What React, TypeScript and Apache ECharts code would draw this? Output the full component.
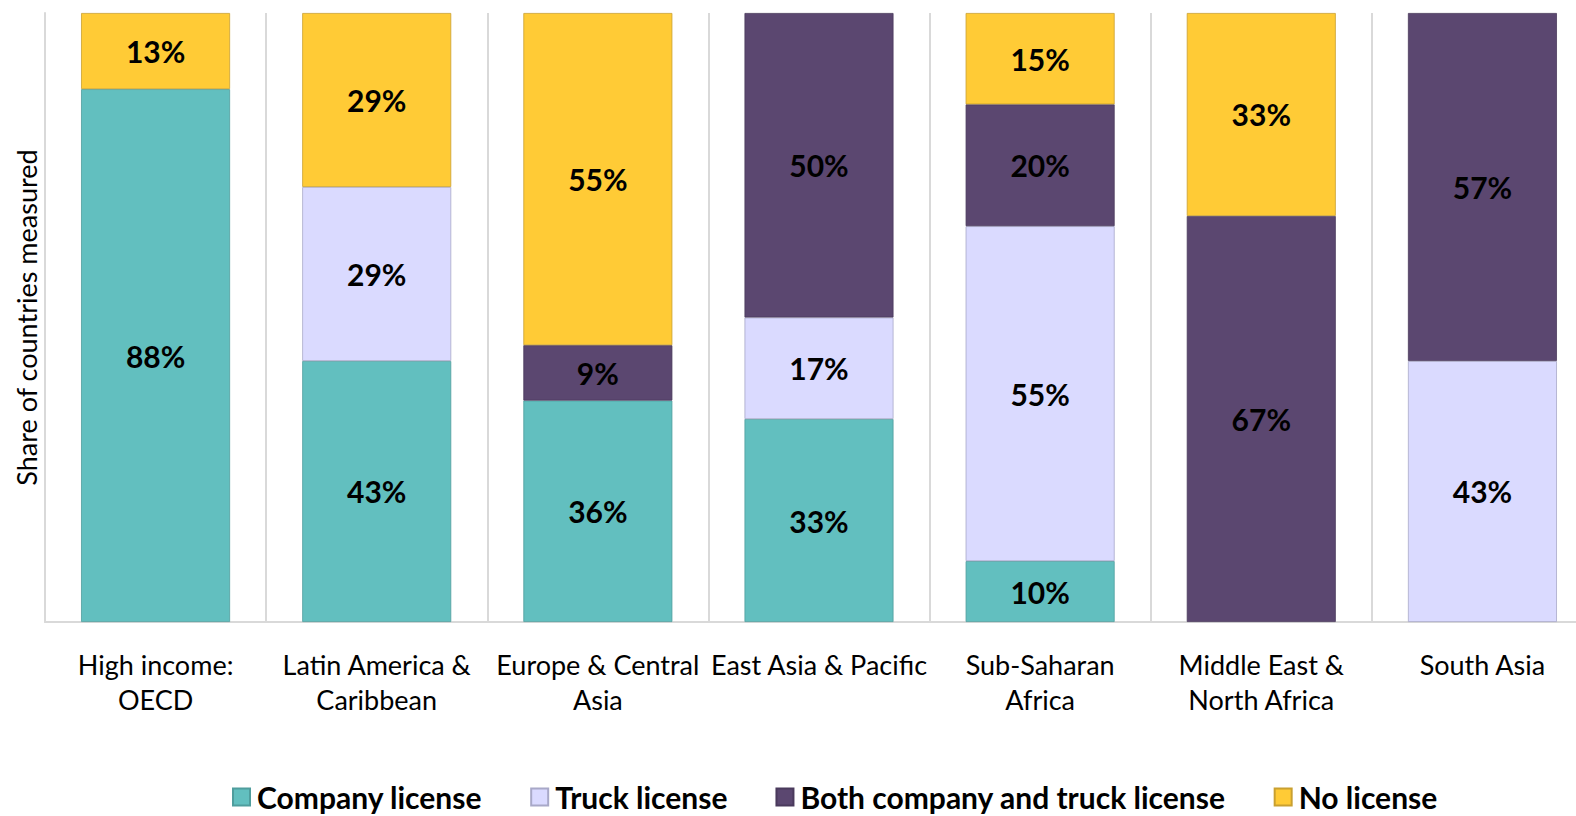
import React, { useEffect, useRef } from "react";
import * as echarts from "echarts";

const categories = [
  "High income:\nOECD",
  "Latin America &\nCaribbean",
  "Europe & Central\nAsia",
  "East Asia & Pacific",
  "Sub-Saharan\nAfrica",
  "Middle East &\nNorth Africa",
  "South Asia",
];

const seriesNames = ["Company license", "Truck license", "Both company and truck license", "No license"];

const companyLicense = [87.5, 42.86, 36.36, 33.33, 10, 0, 0];
const truckLicense = [0, 28.57, 0, 16.67, 55, 0, 42.86];
const bothLicense = [0, 0, 9.09, 50, 20, 66.67, 57.14];
const noLicense = [12.5, 28.57, 54.55, 0, 15, 33.33, 0];

const colors = ["#62BFBF", "#DADAFF", "#5B4770", "#FFCB36"];
const borders = ["#4f9d9d", "#a8a8c8", "#4a3a5c", "#c9a030"];

const FONT = "Lato, 'Open Sans', sans-serif";

export default function App() {
  const ref = useRef<HTMLDivElement>(null);
  useEffect(() => {
    if (!ref.current) return;
    const chart = echarts.init(ref.current, null, { renderer: "svg" });
    const dataSets = [companyLicense, truckLicense, bothLicense, noLicense];
    chart.setOption({
      animation: false,
      textStyle: { fontFamily: FONT },
      grid: { left: 45, width: 1548, top: 13, bottom: 194, containLabel: false, outerBoundsMode: "none" },
      legend: {
        bottom: 4,
        left: 232,
        padding: 0,
        itemWidth: 17,
        itemHeight: 17,
        itemGap: 48,
        icon: "rect",
        textStyle: { fontFamily: FONT, fontSize: 30, fontWeight: "bold", color: "#000", padding: [0, 0, 0, 2] },
        data: seriesNames,
      },
      xAxis: {
        type: "category",
        data: categories,
        axisTick: { show: false },
        axisLine: { show: true, lineStyle: { color: "#d9d9d9", width: 2 } },
        splitLine: { show: true, lineStyle: { color: "#d9d9d9", width: 2 } },
        axisLabel: {
          fontFamily: FONT,
          fontSize: 27,
          color: "#000",
          margin: 25,
          lineHeight: 35,
          interval: 0,
        },
      },
      yAxis: {
        type: "value",
        min: 0,
        max: 100,
        axisLabel: { show: false },
        axisTick: { show: false },
        splitLine: { show: false },
        axisLine: { show: true, lineStyle: { color: "#d9d9d9", width: 2 } },
        name: "Share of countries measured",
        nameLocation: "middle",
        nameGap: 5,
        nameTextStyle: { fontFamily: FONT, fontSize: 27, color: "#000" },
      },
      series: dataSets.map((d, i) => ({
        name: seriesNames[i],
        type: "bar",
        stack: "total",
        barWidth: 149,
        data: d.map((v) => (v > 0 ? v : "-")),
        itemStyle: { color: colors[i], borderColor: borders[i], borderWidth: 0.8 },
        label: {
          show: true,
          position: "inside",
          fontFamily: FONT,
          fontSize: 30,
          fontWeight: "bold",
          color: "#000",
          formatter: (p: any) => (p.value > 0 ? Math.round(p.value) + "%" : ""),
        },
      })),
    });
    return () => chart.dispose();
  }, []);
  return <div ref={ref} style={{ width: 1576, height: 816, position: "absolute", left: 0, top: 0 }} />;
}
